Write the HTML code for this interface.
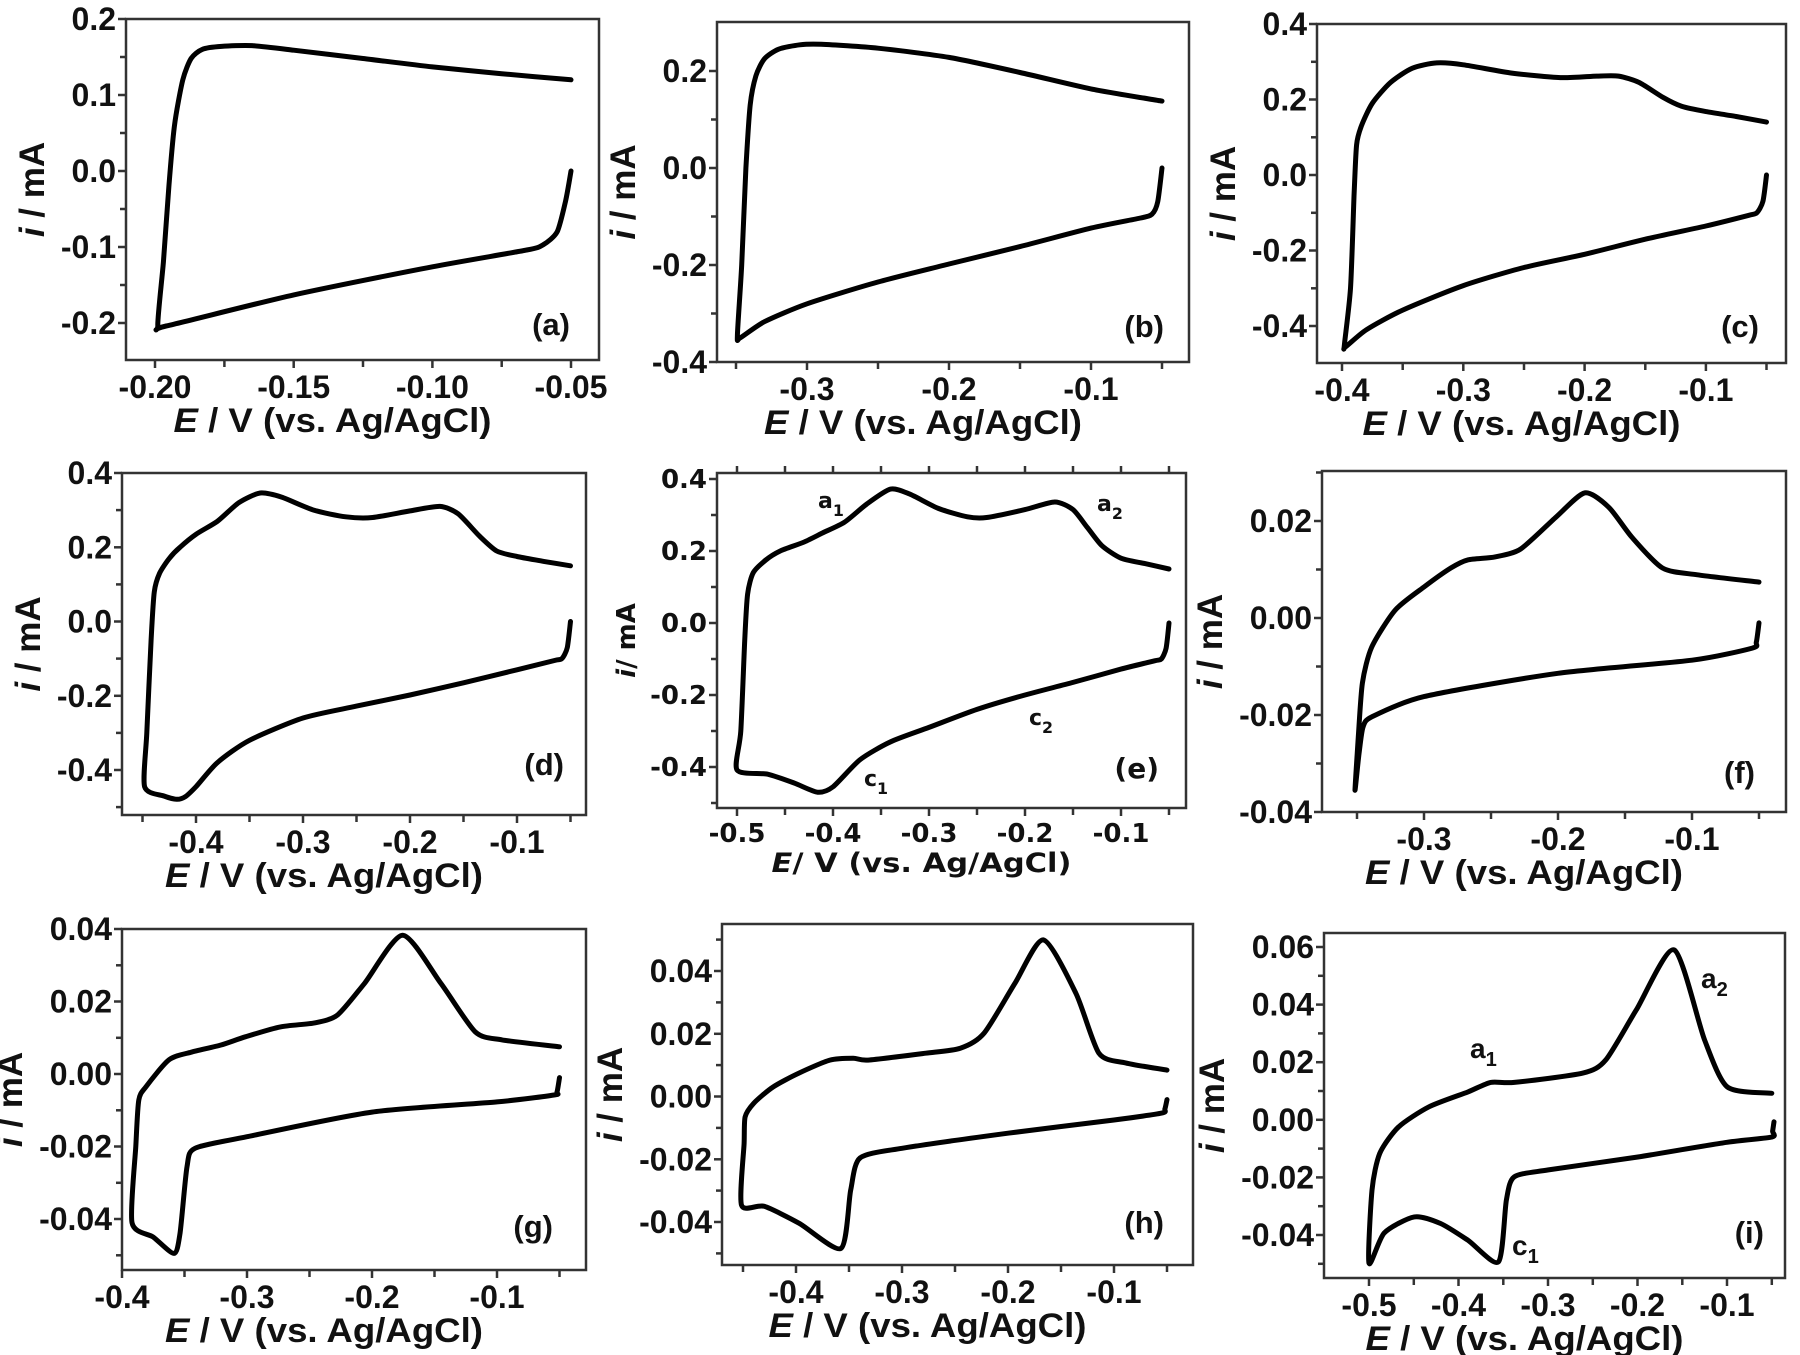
<!DOCTYPE html>
<html><head><meta charset="utf-8"><style>
html,body{margin:0;padding:0;background:#fff;}
svg{display:block;}
</style></head><body>
<svg id="s" width="1800" height="1355" xmlns="http://www.w3.org/2000/svg"></svg>
<script>
var P=[
{l:126,t:19,r:599,b:360,ax:709.7,bx:2773.3,ay:171,by:-760,lab:"(a)",lx:570,ly:335,
 xt:[[-0.20,"-0.20"],[-0.15,"-0.15"],[-0.10,"-0.10"],[-0.05,"-0.05"]],xm:[-0.175,-0.125,-0.075],
 yt:[[0.2,"0.2"],[0.1,"0.1"],[0,"0.0"],[-0.1,"-0.1"],[-0.2,"-0.2"]],ym:[0.15,0.05,-0.05,-0.15],
 d:[[-0.05,0.0],[-0.052,-0.04],[-0.055,-0.08],[-0.06,-0.097],[-0.066,-0.104],[-0.1,-0.126],[-0.15,-0.163],[-0.196,-0.204],[-0.199,-0.203],[-0.197,-0.12],[-0.195,-0.02],[-0.193,0.06],[-0.19,0.12],[-0.187,0.148],[-0.183,0.16],[-0.176,0.164],[-0.165,0.165],[-0.15,0.159],[-0.125,0.148],[-0.1,0.137],[-0.075,0.128],[-0.05,0.12]]},
{l:717,t:22,r:1189,b:362,ax:1233,bx:1420,ay:168,by:-485,lab:"(b)",lx:1164,ly:337,
 xt:[[-0.3,"-0.3"],[-0.2,"-0.2"],[-0.1,"-0.1"]],xm:[-0.35,-0.25,-0.15,-0.05],
 yt:[[0.2,"0.2"],[0,"0.0"],[-0.2,"-0.2"],[-0.4,"-0.4"]],ym:[0.1,-0.1,-0.3],
 d:[[-0.05,0.0],[-0.053,-0.07],[-0.057,-0.095],[-0.065,-0.103],[-0.1,-0.124],[-0.15,-0.162],[-0.2,-0.198],[-0.25,-0.235],[-0.3,-0.28],[-0.33,-0.317],[-0.347,-0.35],[-0.349,-0.345],[-0.346,-0.2],[-0.343,0.0],[-0.34,0.13],[-0.336,0.19],[-0.33,0.225],[-0.32,0.245],[-0.305,0.254],[-0.29,0.255],[-0.25,0.247],[-0.2,0.228],[-0.15,0.197],[-0.1,0.163],[-0.05,0.138]]},
{l:1317,t:24,r:1786,b:363,ax:1827.2,bx:1213,ay:175,by:-377.5,lab:"(c)",lx:1759,ly:337,
 xt:[[-0.4,"-0.4"],[-0.3,"-0.3"],[-0.2,"-0.2"],[-0.1,"-0.1"]],xm:[-0.35,-0.25,-0.15,-0.05],
 yt:[[0.4,"0.4"],[0.2,"0.2"],[0,"0.0"],[-0.2,"-0.2"],[-0.4,"-0.4"]],ym:[0.3,0.1,-0.1,-0.3],
 d:[[-0.05,0.0],[-0.053,-0.07],[-0.058,-0.1],[-0.065,-0.107],[-0.1,-0.135],[-0.15,-0.17],[-0.2,-0.21],[-0.25,-0.245],[-0.3,-0.293],[-0.35,-0.358],[-0.38,-0.41],[-0.397,-0.455],[-0.398,-0.45],[-0.393,-0.3],[-0.39,-0.05],[-0.388,0.08],[-0.384,0.13],[-0.375,0.19],[-0.36,0.245],[-0.342,0.283],[-0.322,0.297],[-0.3,0.292],[-0.26,0.27],[-0.22,0.258],[-0.19,0.262],[-0.172,0.262],[-0.155,0.245],[-0.135,0.205],[-0.12,0.182],[-0.1,0.168],[-0.075,0.155],[-0.05,0.14]]},
{l:122,t:473,r:586,b:815,ax:624,bx:1070,ay:621.5,by:-371.25,lab:"(d)",lx:564,ly:775,
 xt:[[-0.4,"-0.4"],[-0.3,"-0.3"],[-0.2,"-0.2"],[-0.1,"-0.1"]],xm:[-0.45,-0.35,-0.25,-0.15,-0.05],
 yt:[[0.4,"0.4"],[0.2,"0.2"],[0,"0.0"],[-0.2,"-0.2"],[-0.4,"-0.4"]],ym:[0.3,0.1,-0.1,-0.3,-0.5],
 d:[[-0.05,0.0],[-0.053,-0.07],[-0.058,-0.1],[-0.065,-0.105],[-0.1,-0.13],[-0.15,-0.165],[-0.2,-0.198],[-0.25,-0.228],[-0.3,-0.26],[-0.35,-0.32],[-0.38,-0.38],[-0.4,-0.445],[-0.41,-0.472],[-0.418,-0.479],[-0.43,-0.47],[-0.448,-0.445],[-0.446,-0.3],[-0.442,-0.05],[-0.439,0.08],[-0.434,0.13],[-0.425,0.17],[-0.415,0.2],[-0.4,0.235],[-0.38,0.27],[-0.36,0.32],[-0.34,0.346],[-0.32,0.335],[-0.29,0.3],[-0.26,0.282],[-0.235,0.28],[-0.2,0.298],[-0.172,0.31],[-0.155,0.29],[-0.135,0.23],[-0.119,0.19],[-0.1,0.175],[-0.075,0.162],[-0.05,0.15]]},
{l:717,t:473,r:1186,b:808,ax:1217,bx:960,ay:623,by:-360,lab:"(e)",lx:1159,ly:778,e:1,
 xt:[[-0.5,"-0.5"],[-0.4,"-0.4"],[-0.3,"-0.3"],[-0.2,"-0.2"],[-0.1,"-0.1"]],xm:[-0.45,-0.35,-0.25,-0.15,-0.05],
 yt:[[0.4,"0.4"],[0.2,"0.2"],[0,"0.0"],[-0.2,"-0.2"],[-0.4,"-0.4"]],ym:[0.3,0.1,-0.1,-0.3,-0.5],
 d:[[-0.05,0.0],[-0.053,-0.07],[-0.058,-0.1],[-0.065,-0.105],[-0.1,-0.128],[-0.15,-0.165],[-0.2,-0.2],[-0.25,-0.24],[-0.3,-0.29],[-0.34,-0.33],[-0.372,-0.38],[-0.4,-0.455],[-0.416,-0.47],[-0.44,-0.445],[-0.468,-0.42],[-0.5,-0.408],[-0.496,-0.3],[-0.492,-0.05],[-0.489,0.08],[-0.483,0.14],[-0.47,0.175],[-0.455,0.2],[-0.43,0.225],[-0.411,0.25],[-0.388,0.28],[-0.365,0.33],[-0.34,0.372],[-0.32,0.358],[-0.29,0.318],[-0.26,0.295],[-0.24,0.293],[-0.2,0.315],[-0.169,0.336],[-0.15,0.315],[-0.135,0.265],[-0.12,0.215],[-0.1,0.18],[-0.075,0.165],[-0.05,0.15]]},
{l:1322,t:471,r:1786,b:812,ax:1826,bx:1340,ay:618,by:-4850,lab:"(f)",lx:1755,ly:783,
 xt:[[-0.3,"-0.3"],[-0.2,"-0.2"],[-0.1,"-0.1"]],xm:[-0.35,-0.25,-0.15,-0.05],
 yt:[[0.02,"0.02"],[0,"0.00"],[-0.02,"-0.02"],[-0.04,"-0.04"]],ym:[0.03,0.01,-0.01,-0.03],
 d:[[-0.05,-0.001],[-0.052,-0.005],[-0.055,-0.0062],[-0.1,-0.0087],[-0.2,-0.0114],[-0.3,-0.0162],[-0.339,-0.0204],[-0.3455,-0.0225],[-0.3485,-0.028],[-0.3515,-0.0355],[-0.349,-0.0245],[-0.346,-0.0134],[-0.339,-0.006],[-0.3216,0.0016],[-0.3,0.0064],[-0.28,0.0103],[-0.267,0.012],[-0.247,0.0126],[-0.228,0.0142],[-0.2015,0.0208],[-0.18,0.0258],[-0.162,0.0228],[-0.145,0.0167],[-0.122,0.0103],[-0.096,0.0089],[-0.05,0.0074]]},
{l:122,t:929,r:586,b:1270,ax:622,bx:1250,ay:1074,by:-3625,lab:"(g)",lx:553,ly:1237,
 xt:[[-0.4,"-0.4"],[-0.3,"-0.3"],[-0.2,"-0.2"],[-0.1,"-0.1"]],xm:[-0.35,-0.25,-0.15,-0.05],
 yt:[[0.04,"0.04"],[0.02,"0.02"],[0,"0.00"],[-0.02,"-0.02"],[-0.04,"-0.04"]],ym:[0.03,0.01,-0.01,-0.03,-0.05],
 d:[[-0.05,-0.001],[-0.052,-0.005],[-0.0544,-0.0058],[-0.1,-0.0077],[-0.2,-0.0105],[-0.3,-0.0173],[-0.3416,-0.0205],[-0.348,-0.0256],[-0.3536,-0.044],[-0.3584,-0.0495],[-0.375,-0.045],[-0.392,-0.041],[-0.389,-0.02],[-0.3866,-0.0072],[-0.3808,-0.0035],[-0.3625,0.0039],[-0.345,0.006],[-0.3208,0.008],[-0.301,0.0103],[-0.2733,0.013],[-0.2459,0.0141],[-0.2275,0.0163],[-0.206,0.025],[-0.1755,0.0383],[-0.1449,0.025],[-0.1173,0.0116],[-0.0959,0.0094],[-0.05,0.0075]]},
{l:722,t:924,r:1193,b:1265,ax:1220,bx:1060,ay:1096.5,by:-3137.5,lab:"(h)",lx:1164,ly:1233,
 xt:[[-0.4,"-0.4"],[-0.3,"-0.3"],[-0.2,"-0.2"],[-0.1,"-0.1"]],xm:[-0.45,-0.35,-0.25,-0.15,-0.05],
 yt:[[0.04,"0.04"],[0.02,"0.02"],[0,"0.00"],[-0.02,"-0.02"],[-0.04,"-0.04"]],ym:[0.05,0.03,0.01,-0.01,-0.03,-0.05],
 d:[[-0.05,-0.001],[-0.052,-0.004],[-0.055,-0.0053],[-0.1,-0.0075],[-0.2,-0.0117],[-0.3,-0.0165],[-0.3396,-0.0196],[-0.3484,-0.0298],[-0.3575,-0.0484],[-0.397,-0.0404],[-0.43,-0.035],[-0.4514,-0.0346],[-0.449,-0.015],[-0.448,-0.0065],[-0.44,-0.0022],[-0.4218,0.003],[-0.397,0.0075],[-0.368,0.0116],[-0.346,0.0122],[-0.332,0.0116],[-0.2775,0.0138],[-0.245,0.0154],[-0.2225,0.0202],[-0.1936,0.036],[-0.1666,0.0499],[-0.1359,0.0329],[-0.1142,0.0138],[-0.089,0.0107],[-0.05,0.0084]]},
{l:1324,t:933,r:1785,b:1278,ax:1816.5,bx:895,ay:1119.8,by:-2880,lab:"(i)",lx:1764,ly:1243,
 xt:[[-0.5,"-0.5"],[-0.4,"-0.4"],[-0.3,"-0.3"],[-0.2,"-0.2"],[-0.1,"-0.1"]],xm:[-0.45,-0.35,-0.25,-0.15,-0.05],
 yt:[[0.06,"0.06"],[0.04,"0.04"],[0.02,"0.02"],[0,"0.00"],[-0.02,"-0.02"],[-0.04,"-0.04"]],ym:[0.05,0.03,0.01,-0.01,-0.03,-0.05],
 d:[[-0.0475,-0.0007],[-0.049,-0.004],[-0.05,-0.006],[-0.1,-0.0078],[-0.1995,-0.0129],[-0.2996,-0.0174],[-0.3376,-0.0198],[-0.3465,-0.0278],[-0.3553,-0.0493],[-0.3895,-0.0418],[-0.42,-0.036],[-0.4494,-0.0337],[-0.483,-0.0393],[-0.5,-0.0498],[-0.4966,-0.0244],[-0.488,-0.0117],[-0.467,-0.0025],[-0.433,0.0045],[-0.3894,0.0097],[-0.364,0.013],[-0.3376,0.013],[-0.261,0.0162],[-0.2354,0.0208],[-0.2015,0.0381],[-0.159,0.059],[-0.125,0.0277],[-0.0995,0.0114],[-0.05,0.0092]]}
];
var s=document.getElementById("s"),h="";
function f(v){return v.toFixed(1);}
function smooth(pts){
 var d="M"+f(pts[0][0])+","+f(pts[0][1]);
 for(var i=0;i<pts.length-1;i++){
  var p0=pts[Math.max(0,i-1)],p1=pts[i],p2=pts[i+1],p3=pts[Math.min(pts.length-1,i+2)],k=0.12;
  d+=" C"+f(p1[0]+(p2[0]-p0[0])*k)+","+f(p1[1]+(p2[1]-p0[1])*k)+" "+f(p2[0]-(p3[0]-p1[0])*k)+","+f(p2[1]-(p3[1]-p1[1])*k)+" "+f(p2[0])+","+f(p2[1]);
 }
 return d;
}
P.forEach(function(p){
 var fam=p.e?"'DejaVu Sans','Liberation Sans',sans-serif":"'Liberation Sans',sans-serif";
 var fw="bold", fs=p.e?26:32, tfs=p.e?27:34;
 var X=function(v){return p.ax+p.bx*v;},Y=function(v){return p.ay+p.by*v;};
 h+='<rect x="'+p.l+'" y="'+p.t+'" width="'+(p.r-p.l)+'" height="'+(p.b-p.t)+'" fill="none" stroke="#333" stroke-width="2.5"/>';
 p.xt.forEach(function(t){var x=X(t[0]);h+='<line x1="'+f(x)+'" y1="'+p.b+'" x2="'+f(x)+'" y2="'+(p.b+8)+'" stroke="#333" stroke-width="2.5"/>';
  h+='<text x="'+f(x)+'" y="'+(p.b+(p.e?34:38))+'" text-anchor="middle" font-family="'+fam+'" font-weight="'+fw+'" font-size="'+fs+'" fill="#111">'+t[1]+'</text>';
  if(p.e)h+='<line x1="'+f(x)+'" y1="'+p.t+'" x2="'+f(x)+'" y2="'+(p.t-7)+'" stroke="#333" stroke-width="2.5"/>';});
 p.xm.forEach(function(v){var x=X(v);h+='<line x1="'+f(x)+'" y1="'+p.b+'" x2="'+f(x)+'" y2="'+(p.b+7)+'" stroke="#333" stroke-width="2.5"/>';
  if(p.e)h+='<line x1="'+f(x)+'" y1="'+p.t+'" x2="'+f(x)+'" y2="'+(p.t-7)+'" stroke="#333" stroke-width="2.5"/>';});
 p.yt.forEach(function(t){var y=Y(t[0]);h+='<line x1="'+p.l+'" y1="'+f(y)+'" x2="'+(p.l-8)+'" y2="'+f(y)+'" stroke="#333" stroke-width="2.5"/>';
  h+='<text x="'+(p.l-10)+'" y="'+f(y+(p.e?9:11))+'" text-anchor="end" font-family="'+fam+'" font-weight="'+fw+'" font-size="'+fs+'" fill="#111">'+t[1]+'</text>';});
 p.ym.forEach(function(v){var y=Y(v);if(y<p.t-1||y>p.b+1)return;h+='<line x1="'+p.l+'" y1="'+f(y)+'" x2="'+(p.l-6)+'" y2="'+f(y)+'" stroke="#333" stroke-width="2.5"/>';});
 var cx=(p.l+p.r)/2-30,cy=(p.t+p.b)/2;
 h+='<text x="'+f(cx)+'" y="'+(p.b+(p.e?64:72))+'" text-anchor="middle" font-family="'+fam+'" font-weight="'+fw+'" font-size="'+tfs+'" fill="#111" textLength="'+(p.e?300:318)+'" lengthAdjust="spacingAndGlyphs"><tspan font-style="italic">E</tspan>'+(p.e?'/':' /')+' V (vs. Ag/AgCl)</text>';
 var yx=p.l-(p.yt[0][1].length>3?100:82);
 h+='<text transform="translate('+yx+','+f(cy)+') rotate(-90)" text-anchor="middle" font-family="'+fam+'" font-weight="'+fw+'" font-size="'+(p.e?26:35)+'" fill="#111"><tspan font-style="italic">i</tspan>'+(p.e?'/':' /')+' mA</text>';
 h+='<text x="'+p.lx+'" y="'+p.ly+'" text-anchor="end" font-family="'+fam+'" font-weight="'+fw+'" font-size="'+(p.e?28:31)+'" fill="#111">'+p.lab+'</text>';
 var pts=p.d.map(function(q){return [X(q[0]),Y(q[1])];});
 h+='<path d="'+smooth(pts)+'" fill="none" stroke="#000" stroke-width="5" stroke-linejoin="round" stroke-linecap="round"/>';
});
function sub(x,y,a,b,fam,fs){return '<text x="'+x+'" y="'+y+'" font-family="'+fam+'" font-weight="bold" font-size="'+fs+'" fill="#111">'+a+'<tspan font-size="'+(fs*0.72)+'" dy="8">'+b+'</tspan></text>';}
var fe="'DejaVu Sans','Liberation Sans',sans-serif",fl="'Liberation Sans',sans-serif";
h+=sub(818,508,"a","1",fe,22)+sub(1097,511,"a","2",fe,22)+sub(1029,725,"c","2",fe,22)+sub(864,786,"c","1",fe,22);
h+=sub(1470,1058,"a","1",fl,28)+sub(1701,988,"a","2",fl,28)+sub(1512,1255,"c","1",fl,28);
s.innerHTML=h;
</script>
</body></html>
